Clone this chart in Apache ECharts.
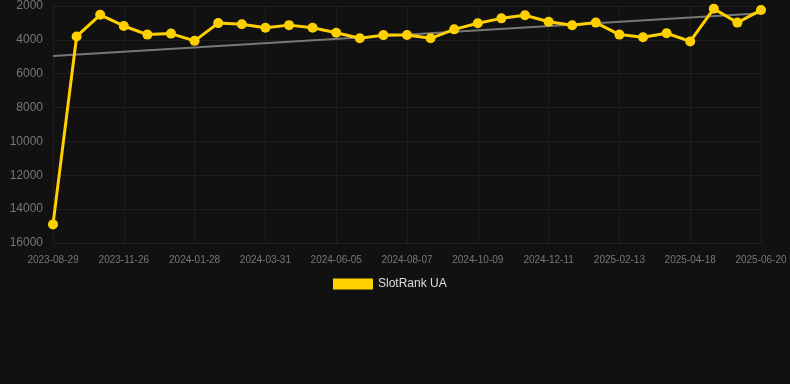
<!DOCTYPE html>
<html><head><meta charset="utf-8">
<script src="https://cdn.jsdelivr.net/npm/echarts@6/dist/echarts.min.js"></script>
<style>html,body{margin:0;padding:0;background:#111111;}#c{width:790px;height:384px;}</style>
</head><body><div id="c"></div>
<script>
const categories = ["2023-08-29","2023-09-28","2023-10-27","2023-11-26","2023-12-17","2024-01-07","2024-01-28","2024-02-18","2024-03-10","2024-03-31","2024-04-21","2024-05-12","2024-06-05","2024-06-26","2024-07-17","2024-08-07","2024-08-28","2024-09-18","2024-10-09","2024-10-30","2024-11-20","2024-12-11","2025-01-01","2025-01-22","2025-02-13","2025-03-06","2025-03-27","2025-04-18","2025-05-09","2025-05-30","2025-06-20"];
const rankValues = [14900,3800,2520,3180,3690,3630,4060,3010,3080,3290,3130,3290,3580,3910,3720,3710,3910,3380,3020,2730,2550,2930,3140,2980,3690,3850,3610,4090,2160,2980,2240];
const trendValues = [4950,null,null,null,null,null,null,null,null,null,null,null,null,null,null,null,null,null,null,null,null,null,null,null,null,null,null,null,null,null,2430];
const seriesName = "SlotRank UA";
const chart = echarts.init(document.getElementById('c'));
chart.setOption({
  backgroundColor: '#111111',
  animation: false,
  grid: {left: 53, right: 29, top: 6, bottom: 141},
  legend: {
    data: [seriesName], top: 273, left: 328, icon: 'rect', itemWidth: 40, itemHeight: 11,
    textStyle: {color: '#dddddd', fontSize: 12, fontFamily: 'Liberation Sans, Arial, sans-serif'}
  },
  xAxis: {
    type: 'category', data: categories, boundaryGap: false,
    axisLine: {show: false}, axisTick: {show: false},
    axisLabel: {interval: 2, color: '#777777', fontSize: 10, margin: 12, fontFamily: 'Liberation Sans, Arial, sans-serif'},
    splitLine: {show: true, interval: 2, lineStyle: {color: '#1e1e1e', width: 1}}
  },
  yAxis: {
    type: 'value', inverse: true, min: 2000, max: 16000, interval: 2000,
    axisLine: {show: false}, axisTick: {show: false},
    axisLabel: {color: '#777777', fontSize: 12, margin: 10, formatter: v => String(v), fontFamily: 'Liberation Sans, Arial, sans-serif'},
    splitLine: {lineStyle: {color: '#1e1e1e', width: 1}}
  },
  series: [
    {
      name: 'trend', type: 'line', data: trendValues, connectNulls: true, symbol: 'none',
      lineStyle: {color: '#777777', width: 2}, silent: true, z: 1
    },
    {
      name: seriesName, type: 'line', data: rankValues, symbol: 'circle', symbolSize: 10,
      lineStyle: {color: '#ffd000', width: 3}, itemStyle: {color: '#ffd000'}, z: 2
    }
  ]
});
</script></body></html>
